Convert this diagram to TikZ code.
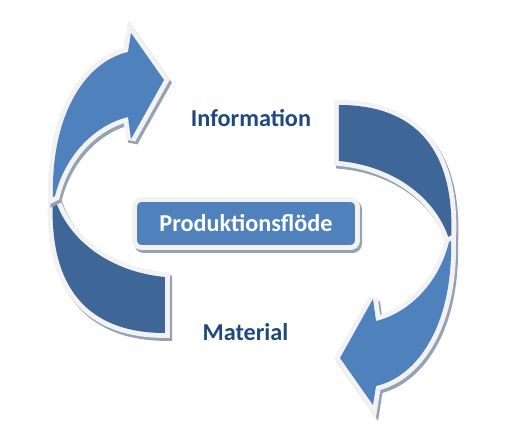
\documentclass[tikz,border=0pt]{standalone}
\usepackage{fontspec}
\setmainfont{Carlito}
\definecolor{lightblue}{RGB}{79,129,189}
\definecolor{darkblue}{RGB}{62,102,150}
\definecolor{rimgray}{RGB}{242,242,242}
\definecolor{shadowgray}{RGB}{150,162,180}
\definecolor{textblue}{RGB}{31,73,125}
\tikzset{
    rim/.style={draw=rimgray, line width=5.6pt, line join=miter, miter limit=3}, % light edge round a piece
    backshadow/.style={fill=shadowgray, draw=shadowgray, line width=5.6pt, line join=miter, miter limit=3,
        transform canvas={xshift=1.2pt, yshift=-1.7pt}},
    flowlabel/.style={text=textblue, font=\fontsize{13.8}{16}\selectfont\bfseries},
    flowbox/.style={minimum width=4.46cm, minimum height=0.96cm, rounded corners=4pt,
        fill=lightblue, draw=rimgray, line width=2.8pt, text=white,
        font=\fontsize{13.8}{16}\selectfont\bfseries,
        preaction={fill=shadowgray, draw=shadowgray, transform canvas={xshift=1.2pt, yshift=-1.7pt}}},
}
\newcommand{\lowerpiece}{(53,197) .. controls (48,290) and (90,333) .. (165,333) -- (165,277) .. controls (110,272) and (68,240) .. (55,199) -- cycle}
\newcommand{\upperpiece}{(53,197) .. controls (51,115) and (85,62) .. (128,52) -- (131,33) -- (164,80) -- (131,139) -- (128,117) .. controls (95,125) and (65,155) .. (55,196) -- cycle}

\begin{document}
\begin{tikzpicture}[x=0.02cm, y=-0.02cm]
  \useasboundingbox (0,0) rectangle (512,447);

  \path[backshadow] \lowerpiece;
  \path[rim] \lowerpiece;
  \fill[darkblue] \lowerpiece;
  \path[backshadow] \upperpiece;
  \path[rim] \upperpiece;
  \fill[lightblue] \upperpiece;

  \begin{scope}[rotate around={180:(252,219)}]
    \path[backshadow] \lowerpiece;
    \path[rim] \lowerpiece;
    \fill[darkblue] \lowerpiece;
    \path[backshadow] \upperpiece;
    \path[rim] \upperpiece;
    \fill[lightblue] \upperpiece;
  \end{scope}

  \node[flowbox] (flow) at (246,223.5) {Produktionsflöde};
  \node[flowlabel] (info) at (251,118) {Information};
  \node[flowlabel] (material) at (245.5,332) {Material};
\end{tikzpicture}
\end{document}
